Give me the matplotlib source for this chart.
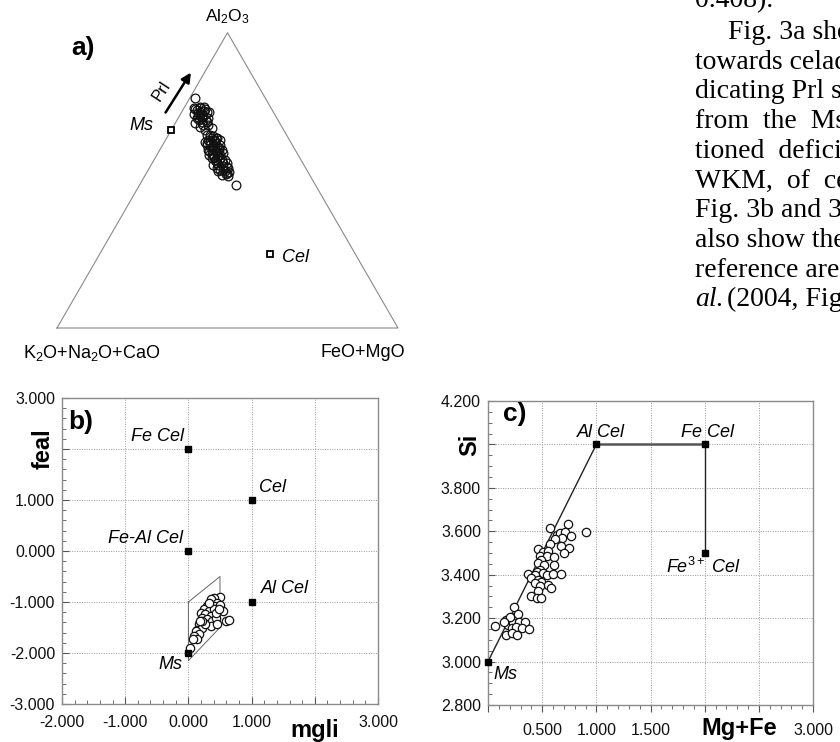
import numpy as np
import matplotlib.pyplot as plt
import matplotlib.transforms as mtrans
from matplotlib.ticker import MultipleLocator, FixedLocator, FixedFormatter

plt.rcParams['font.family'] = 'Liberation Sans'
plt.rcParams['mathtext.fontset'] = 'custom'
plt.rcParams['mathtext.rm'] = 'Liberation Sans'
plt.rcParams['mathtext.it'] = 'Liberation Sans:italic'
plt.rcParams['mathtext.bf'] = 'Liberation Sans:bold'

# ---------------- data ----------------
# a) ternary, fractions of Al2O3 and FeO+MgO (rest = K2O+Na2O+CaO)
tern_al = [0.779, 0.745, 0.745, 0.742, 0.728, 0.722, 0.711, 0.711, 0.699, 0.688,
           0.682, 0.677, 0.672, 0.654, 0.649, 0.637, 0.632, 0.620, 0.615, 0.603,
           0.603, 0.586, 0.586, 0.569, 0.569, 0.553, 0.626, 0.643, 0.643, 0.586,
           0.592, 0.553, 0.547, 0.558, 0.536, 0.530, 0.541, 0.519, 0.516, 0.485,
           0.558, 0.569, 0.716, 0.733, 0.694, 0.733, 0.750, 0.716, 0.705, 0.688,
           0.739, 0.632, 0.615, 0.598, 0.575, 0.581, 0.603, 0.637, 0.620, 0.603,
           0.541, 0.558, 0.524,
           0.748, 0.736, 0.725, 0.720, 0.713, 0.730, 0.705, 0.698, 0.742,
           0.652, 0.645, 0.630, 0.625, 0.618, 0.610, 0.600, 0.595, 0.590, 0.580,
           0.575, 0.565, 0.635, 0.612,
           0.545, 0.535, 0.528, 0.532, 0.520]
tern_fm = [0.015, 0.029, 0.047, 0.063, 0.050, 0.068, 0.088, 0.054, 0.075, 0.100,
           0.078, 0.115, 0.098, 0.112, 0.134, 0.125, 0.147, 0.139, 0.161, 0.152,
           0.174, 0.165, 0.185, 0.179, 0.199, 0.197, 0.126, 0.132, 0.149, 0.154,
           0.192, 0.182, 0.214, 0.219, 0.210, 0.228, 0.232, 0.224, 0.244, 0.283,
           0.189, 0.208, 0.066, 0.073, 0.058, 0.053, 0.056, 0.056, 0.085, 0.083,
           0.040, 0.133, 0.151, 0.167, 0.166, 0.182, 0.142, 0.142, 0.168, 0.181,
           0.198, 0.207, 0.236,
           0.045, 0.062, 0.040, 0.058, 0.072, 0.080, 0.063, 0.090, 0.035,
           0.122, 0.145, 0.120, 0.150, 0.130, 0.170, 0.145, 0.175, 0.160, 0.170,
           0.190, 0.185, 0.160, 0.150,
           0.225, 0.220, 0.240, 0.205, 0.235]
ms_tern = (0.67, 0.0)
cel_tern = (0.25, 0.50)

# b) mgli vs feal
mgli = [0.50, 0.41, 0.35, 0.45, 0.40, 0.50, 0.54, 0.30, 0.25, 0.33,
        0.41, 0.20, 0.27, 0.35, 0.22, 0.30, 0.38, 0.25, 0.17, 0.35,
        0.43, 0.14, 0.22, 0.12, 0.17, 0.09, 0.14, 0.08, 0.03, 0.59,
        0.64, 0.46, 0.27, 0.33, 0.22, 0.43, 0.49, 0.18]
feal = [-0.90, -0.93, -0.95, -1.01, -1.08, -1.05, -1.18, -1.08, -1.14, -1.18,
        -1.13, -1.21, -1.24, -1.27, -1.31, -1.34, -1.37, -1.41, -1.44, -1.47,
        -1.31, -1.54, -1.50, -1.57, -1.63, -1.67, -1.73, -1.72, -1.90, -1.37,
        -1.36, -1.44, -1.44, -1.01, -1.37, -1.21, -1.14, -1.37]
b_names = ['Fe Cel', 'Cel', 'Fe-Al Cel', 'Al Cel', 'Ms']
b_x = [0, 1, 0, 1, 0]
b_y = [2, 1, 0, -1, -2]
field_x = [0, 0.5, 0.5, 0, 0]
field_y = [-1, -0.5, -1.5, -2.15, -1]

# c) Mg+Fe vs Si
mgfe = [0.575, 0.738, 0.637, 0.662, 0.708, 0.763, 0.683, 0.90, 0.615, 0.569,
        0.677, 0.748, 0.70, 0.46, 0.51, 0.55, 0.48, 0.54, 0.61, 0.49,
        0.46, 0.52, 0.61, 0.48, 0.45, 0.51, 0.54, 0.37, 0.43, 0.60,
        0.67, 0.40, 0.46, 0.49, 0.55, 0.58, 0.43, 0.48, 0.46, 0.40,
        0.45, 0.49, 0.24, 0.06, 0.17, 0.20, 0.25, 0.28, 0.18, 0.23,
        0.29, 0.34, 0.22, 0.26, 0.31, 0.38, 0.17, 0.22, 0.27, 0.20,
        0.15]
si = [3.614, 3.634, 3.583, 3.591, 3.599, 3.579, 3.568, 3.596, 3.564, 3.542,
      3.533, 3.522, 3.499, 3.517, 3.506, 3.511, 3.487, 3.484, 3.481, 3.468,
      3.453, 3.445, 3.445, 3.422, 3.414, 3.407, 3.399, 3.403, 3.399, 3.402,
      3.403, 3.384, 3.376, 3.368, 3.353, 3.338, 3.361, 3.346, 3.323, 3.303,
      3.292, 3.292, 3.251, 3.165, 3.192, 3.200, 3.207, 3.220, 3.169, 3.177,
      3.184, 3.184, 3.154, 3.161, 3.154, 3.151, 3.123, 3.131, 3.123, 3.207,
      3.184]
c_names = ['Ms', 'Al Cel', 'Fe Cel', 'Fe$^{3+}$ Cel']
c_x = [0, 1, 2, 2]
c_y = [3.0, 4.0, 4.0, 3.5]

page_lines = ['0.408).', 'Fig. 3a sho', 'towards celad', 'dicating Prl s',
              'from  the  Ms', 'tioned  defici', 'WKM,  of  cel', 'Fig. 3b and 3c',
              'also show the', 'reference area', '(2004, Fig']

fig = plt.figure(figsize=(8.4, 7.42), dpi=100)
W, H = 840, 742

grid_kw = dict(color='#9a9a9a', linestyle=(0, (1, 1.5)), linewidth=0.7)
spine_c = '#8a8a8a'

# ---------------- a) ternary ----------------
axa = fig.add_axes([0, 1 - 380 / H, 420 / W, 380 / H])
axa.set_xlim(-57 / 341, 363 / 341)
axa.set_ylim(-52 / 341, 328 / 341)
axa.axis('off')
h = np.sqrt(3) / 2


def tern(al, fm):
    al = np.asarray(al)
    fm = np.asarray(fm)
    return fm + al / 2, al * h


axa.plot([0, 1, 0.5, 0], [0, 0, h, 0], color='#8a8a8a', lw=0.8)
tx, ty = tern(tern_al, tern_fm)
axa.plot(tx, ty, 'o', ms=6.3, mfc='none', mec='#111111', mew=0.9)
for (al, fm) in [ms_tern, cel_tern]:
    px, py = tern(al, fm)
    axa.plot(px, py, 's', ms=4.2, mfc='white', mec='black', mew=1.3)
axa.text(0.5, 0.912, 'Al$_2$O$_3$', ha='center', va='center', fontsize=12.5)
axa.text(0.103, -0.073, 'K$_2$O+Na$_2$O+CaO', ha='center', va='center', fontsize=13)
axa.text(0.897, -0.073, 'FeO+MgO', ha='center', va='center', fontsize=13)
axa.text(0.076, 0.82, 'a)', ha='center', va='center', fontsize=19, fontweight='bold')
axa.text(0.282, 0.595, 'Ms', ha='right', va='center', fontsize=13, style='italic')
axa.text(0.66, 0.208, 'Cel', ha='left', va='center', fontsize=13, style='italic')
axa.annotate('', xy=(0.397, 0.756), xytext=(0.314, 0.625),
             arrowprops=dict(arrowstyle='-|>', color='black', lw=1.8, mutation_scale=14))
axa.text(0.305, 0.695, 'Prl', ha='center', va='center', fontsize=12, rotation=57)


def style_axes(ax):
    for s in ax.spines.values():
        s.set_color(spine_c)
        s.set_linewidth(1.0)
    ax.grid(True, which='major', **grid_kw)
    ax.set_axisbelow(True)
    ax.tick_params(which='both', colors='#555555', labelcolor='#111111', labelsize=11.5)
    ax.tick_params(which='major', length=5)
    ax.tick_params(which='minor', length=3)


# ---------------- b) mgli - feal ----------------
axb = fig.add_axes([62 / W, 1 - 704 / H, 316 / W, 306 / H])
axb.set_xlim(-2, 3)
axb.set_ylim(-3, 3)
bx_ticks = [-2, -1, 0, 1, 2, 3]
by_ticks = [-3, -2, -1, 0, 1, 2, 3]
axb.xaxis.set_major_locator(FixedLocator(bx_ticks))
axb.xaxis.set_major_formatter(FixedFormatter(['%.3f' % v if v != 2 else '' for v in bx_ticks]))
axb.yaxis.set_major_locator(FixedLocator(by_ticks))
axb.yaxis.set_major_formatter(FixedFormatter(['%.3f' % v if v != 2 else '' for v in by_ticks]))
axb.xaxis.set_minor_locator(MultipleLocator(0.2))
axb.yaxis.set_minor_locator(MultipleLocator(0.2))
style_axes(axb)
axb.tick_params(which='both', direction='in')
axb.tick_params(axis='x', pad=8)
axb.tick_params(axis='y', pad=5)

axb.plot(field_x, field_y, color='#666666', lw=0.7)
axb.plot(mgli, feal, 'o', ms=6.0, mfc='white', mec='#111111', mew=0.9, zorder=3)
axb.plot(b_x, b_y, 's', ms=4.5, color='black', zorder=4)
b_off = {'Fe Cel': (-0.07, 0.25, 'right'), 'Cel': (0.12, 0.25, 'left'),
         'Fe-Al Cel': (-0.08, 0.24, 'right'), 'Al Cel': (0.14, 0.26, 'left'),
         'Ms': (-0.095, -0.22, 'right')}
for name, x, y in zip(b_names, b_x, b_y):
    dx, dy, ha = b_off[name]
    axb.text(x + dx, y + dy, name, ha=ha, va='center', fontsize=13, style='italic')
trb = mtrans.blended_transform_factory(axb.transAxes, axb.transData)
axb.text(-0.06, 2.0, 'feal', transform=trb, rotation=90, ha='center', va='center',
         fontsize=17, fontweight='bold')
trbx = mtrans.blended_transform_factory(axb.transData, axb.transAxes)
axb.text(2.0, -0.085, 'mgli', transform=trbx, ha='center', va='center',
         fontsize=17, fontweight='bold')
axb.text(0.059, 0.92, 'b)', transform=axb.transAxes, ha='center', va='center',
         fontsize=19, fontweight='bold')

# ---------------- c) Mg+Fe - Si ----------------
axc = fig.add_axes([488 / W, 1 - 705 / H, 325 / W, 304 / H])
axc.set_xlim(0, 3)
axc.set_ylim(2.8, 4.2)
cx_ticks = [0, 0.5, 1.0, 1.5, 2.0, 2.5, 3.0]
cx_labels = ['', '0.500', '1.000', '1.500', '', '', '3.000']
cy_ticks = [2.8, 3.0, 3.2, 3.4, 3.6, 3.8, 4.0, 4.2]
axc.xaxis.set_major_locator(FixedLocator(cx_ticks))
axc.xaxis.set_major_formatter(FixedFormatter(cx_labels))
axc.yaxis.set_major_locator(FixedLocator(cy_ticks))
axc.yaxis.set_major_formatter(FixedFormatter(['%.3f' % v if abs(v - 4.0) > 1e-6 else '' for v in cy_ticks]))
axc.xaxis.set_minor_locator(MultipleLocator(0.1))
axc.yaxis.set_minor_locator(MultipleLocator(0.05))
style_axes(axc)
axc.tick_params(axis='x', which='both', direction='out', pad=8)
axc.tick_params(axis='y', which='both', direction='in', pad=5)

axc.plot(c_x[:2], c_y[:2], color='#222222', lw=1.0, zorder=2)
axc.plot(c_x[1:3], c_y[1:3], color='#555555', lw=1.8, zorder=2)
axc.plot(c_x[2:], c_y[2:], color='#222222', lw=1.0, zorder=2)
axc.plot(mgfe, si, 'o', ms=6.0, mfc='white', mec='#111111', mew=0.9, zorder=3)
axc.plot(c_x, c_y, 's', ms=4.5, color='black', zorder=4, clip_on=False)
c_off = {'Ms': (0.05, -0.06, 'left'), 'Al Cel': (0.04, 0.054, 'center'),
         'Fe Cel': (0.03, 0.054, 'center'), 'Fe$^{3+}$ Cel': (-0.015, -0.066, 'center')}
for name, x, y in zip(c_names, c_x, c_y):
    dx, dy, ha = c_off[name]
    axc.text(x + dx, y + dy, name, ha=ha, va='center', fontsize=13, style='italic')
trc = mtrans.blended_transform_factory(axc.transAxes, axc.transData)
axc.text(-0.055, 4.0, 'Si', transform=trc, rotation=90, ha='center', va='center',
         fontsize=17, fontweight='bold')
trcx = mtrans.blended_transform_factory(axc.transData, axc.transAxes)
axc.text(2.32, -0.076, 'Mg+Fe', transform=trcx, ha='center', va='center',
         fontsize=17, fontweight='bold')
axc.text(0.082, 0.957, 'c)', transform=axc.transAxes, ha='center', va='center',
         fontsize=19, fontweight='bold')

# ---------------- running text of the page ----------------
base = [7, 39, 69, 98, 128, 158, 188, 217, 247, 277, 306]
for i, (line, yb) in enumerate(zip(page_lines, base)):
    x0 = 728 if i == 1 else 695
    if i == len(page_lines) - 1:
        fig.text(695 / W, 1 - yb / H, 'al.', fontsize=20, family='Liberation Serif',
                 style='italic', va='baseline', ha='left')
        x0 = 727
    fig.text(x0 / W, 1 - yb / H, line, fontsize=20, family='Liberation Serif',
             va='baseline', ha='left')

fig.savefig('out.png', dpi=100)
